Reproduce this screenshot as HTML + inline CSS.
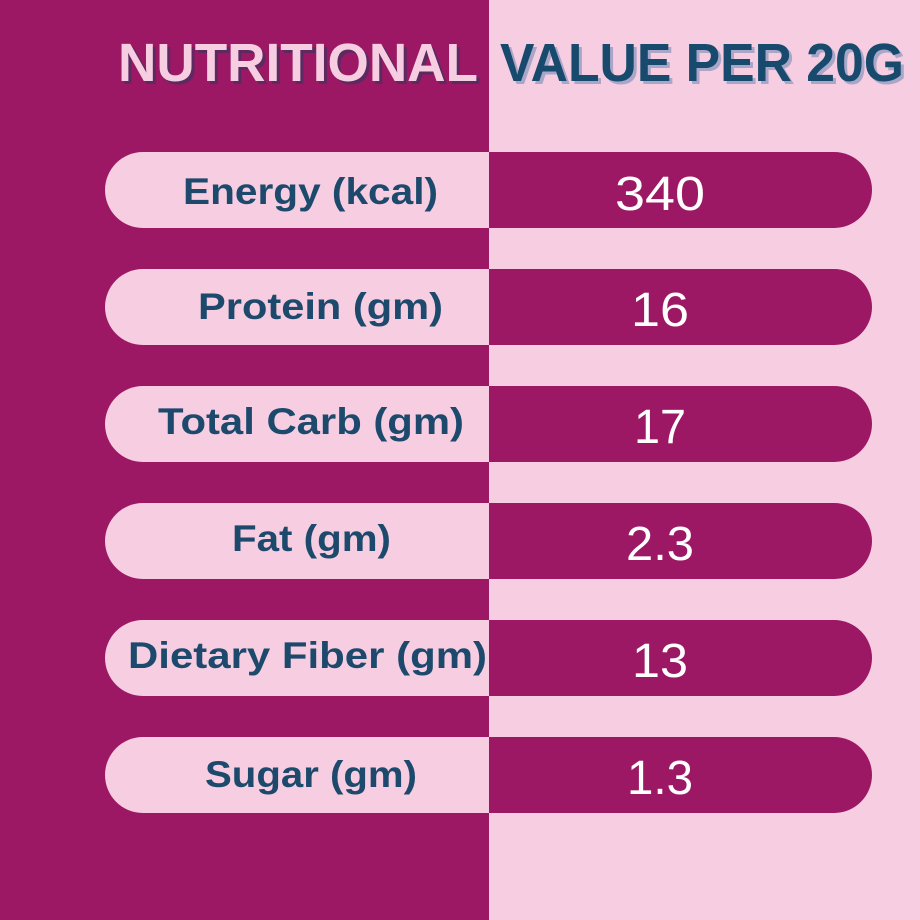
<!DOCTYPE html>
<html><head><style>html,body{margin:0;padding:0;}svg{display:block}</style></head>
<body>
<svg width="920" height="920" xmlns="http://www.w3.org/2000/svg">
<rect x="0" y="0" width="489" height="920" fill="#9c1864"/>
<rect x="489" y="0" width="431" height="920" fill="#f6cde1"/>
<g font-family="Liberation Sans, sans-serif" font-weight="bold" font-size="54">
<text x="121" y="84" fill="#5a2a60" textLength="360" lengthAdjust="spacingAndGlyphs">NUTRITIONAL</text>
<text x="118" y="81" fill="#f6cde1" textLength="360" lengthAdjust="spacingAndGlyphs">NUTRITIONAL</text>
<text x="503" y="84" fill="#a9a6c8" textLength="404" lengthAdjust="spacingAndGlyphs">VALUE PER 20G</text>
<text x="500" y="81" fill="#174a6c" textLength="404" lengthAdjust="spacingAndGlyphs">VALUE PER 20G</text>
</g>
<g font-family="Liberation Sans, sans-serif">
<g transform="translate(0,152)">
<path d="M143,0 H493 V76 H143 A38,38 0 0 1 143,0 Z" fill="#f6cde1"/>
<path d="M489,0 H834 A38,38 0 0 1 834,76 H489 Z" fill="#9c1864"/>
<text x="183" y="52" font-weight="bold" font-size="37" fill="#1d4a6c" textLength="255" lengthAdjust="spacingAndGlyphs">Energy (kcal)</text>
<text x="615" y="58" font-size="48" fill="#fff" textLength="90" lengthAdjust="spacingAndGlyphs">340</text>
</g>
<g transform="translate(0,269)">
<path d="M143,0 H493 V76 H143 A38,38 0 0 1 143,0 Z" fill="#f6cde1"/>
<path d="M489,0 H834 A38,38 0 0 1 834,76 H489 Z" fill="#9c1864"/>
<text x="198" y="50" font-weight="bold" font-size="37" fill="#1d4a6c" textLength="245" lengthAdjust="spacingAndGlyphs">Protein (gm)</text>
<text x="631" y="57" font-size="48" fill="#fff" textLength="58" lengthAdjust="spacingAndGlyphs">16</text>
</g>
<g transform="translate(0,386)">
<path d="M143,0 H493 V76 H143 A38,38 0 0 1 143,0 Z" fill="#f6cde1"/>
<path d="M489,0 H834 A38,38 0 0 1 834,76 H489 Z" fill="#9c1864"/>
<text x="158" y="48" font-weight="bold" font-size="37" fill="#1d4a6c" textLength="306" lengthAdjust="spacingAndGlyphs">Total Carb (gm)</text>
<text x="634" y="57" font-size="48" fill="#fff" textLength="52" lengthAdjust="spacingAndGlyphs">17</text>
</g>
<g transform="translate(0,503)">
<path d="M143,0 H493 V76 H143 A38,38 0 0 1 143,0 Z" fill="#f6cde1"/>
<path d="M489,0 H834 A38,38 0 0 1 834,76 H489 Z" fill="#9c1864"/>
<text x="232" y="48" font-weight="bold" font-size="37" fill="#1d4a6c" textLength="159" lengthAdjust="spacingAndGlyphs">Fat (gm)</text>
<text x="626" y="57" font-size="48" fill="#fff" textLength="68" lengthAdjust="spacingAndGlyphs">2.3</text>
</g>
<g transform="translate(0,620)">
<path d="M143,0 H493 V76 H143 A38,38 0 0 1 143,0 Z" fill="#f6cde1"/>
<path d="M489,0 H834 A38,38 0 0 1 834,76 H489 Z" fill="#9c1864"/>
<text x="128" y="48" font-weight="bold" font-size="37" fill="#1d4a6c" textLength="359" lengthAdjust="spacingAndGlyphs">Dietary Fiber (gm)</text>
<text x="632" y="57" font-size="48" fill="#fff" textLength="56" lengthAdjust="spacingAndGlyphs">13</text>
</g>
<g transform="translate(0,737)">
<path d="M143,0 H493 V76 H143 A38,38 0 0 1 143,0 Z" fill="#f6cde1"/>
<path d="M489,0 H834 A38,38 0 0 1 834,76 H489 Z" fill="#9c1864"/>
<text x="205" y="50" font-weight="bold" font-size="37" fill="#1d4a6c" textLength="212" lengthAdjust="spacingAndGlyphs">Sugar (gm)</text>
<text x="627" y="57" font-size="48" fill="#fff" textLength="66" lengthAdjust="spacingAndGlyphs">1.3</text>
</g>
</g>
</svg>
</body></html>
